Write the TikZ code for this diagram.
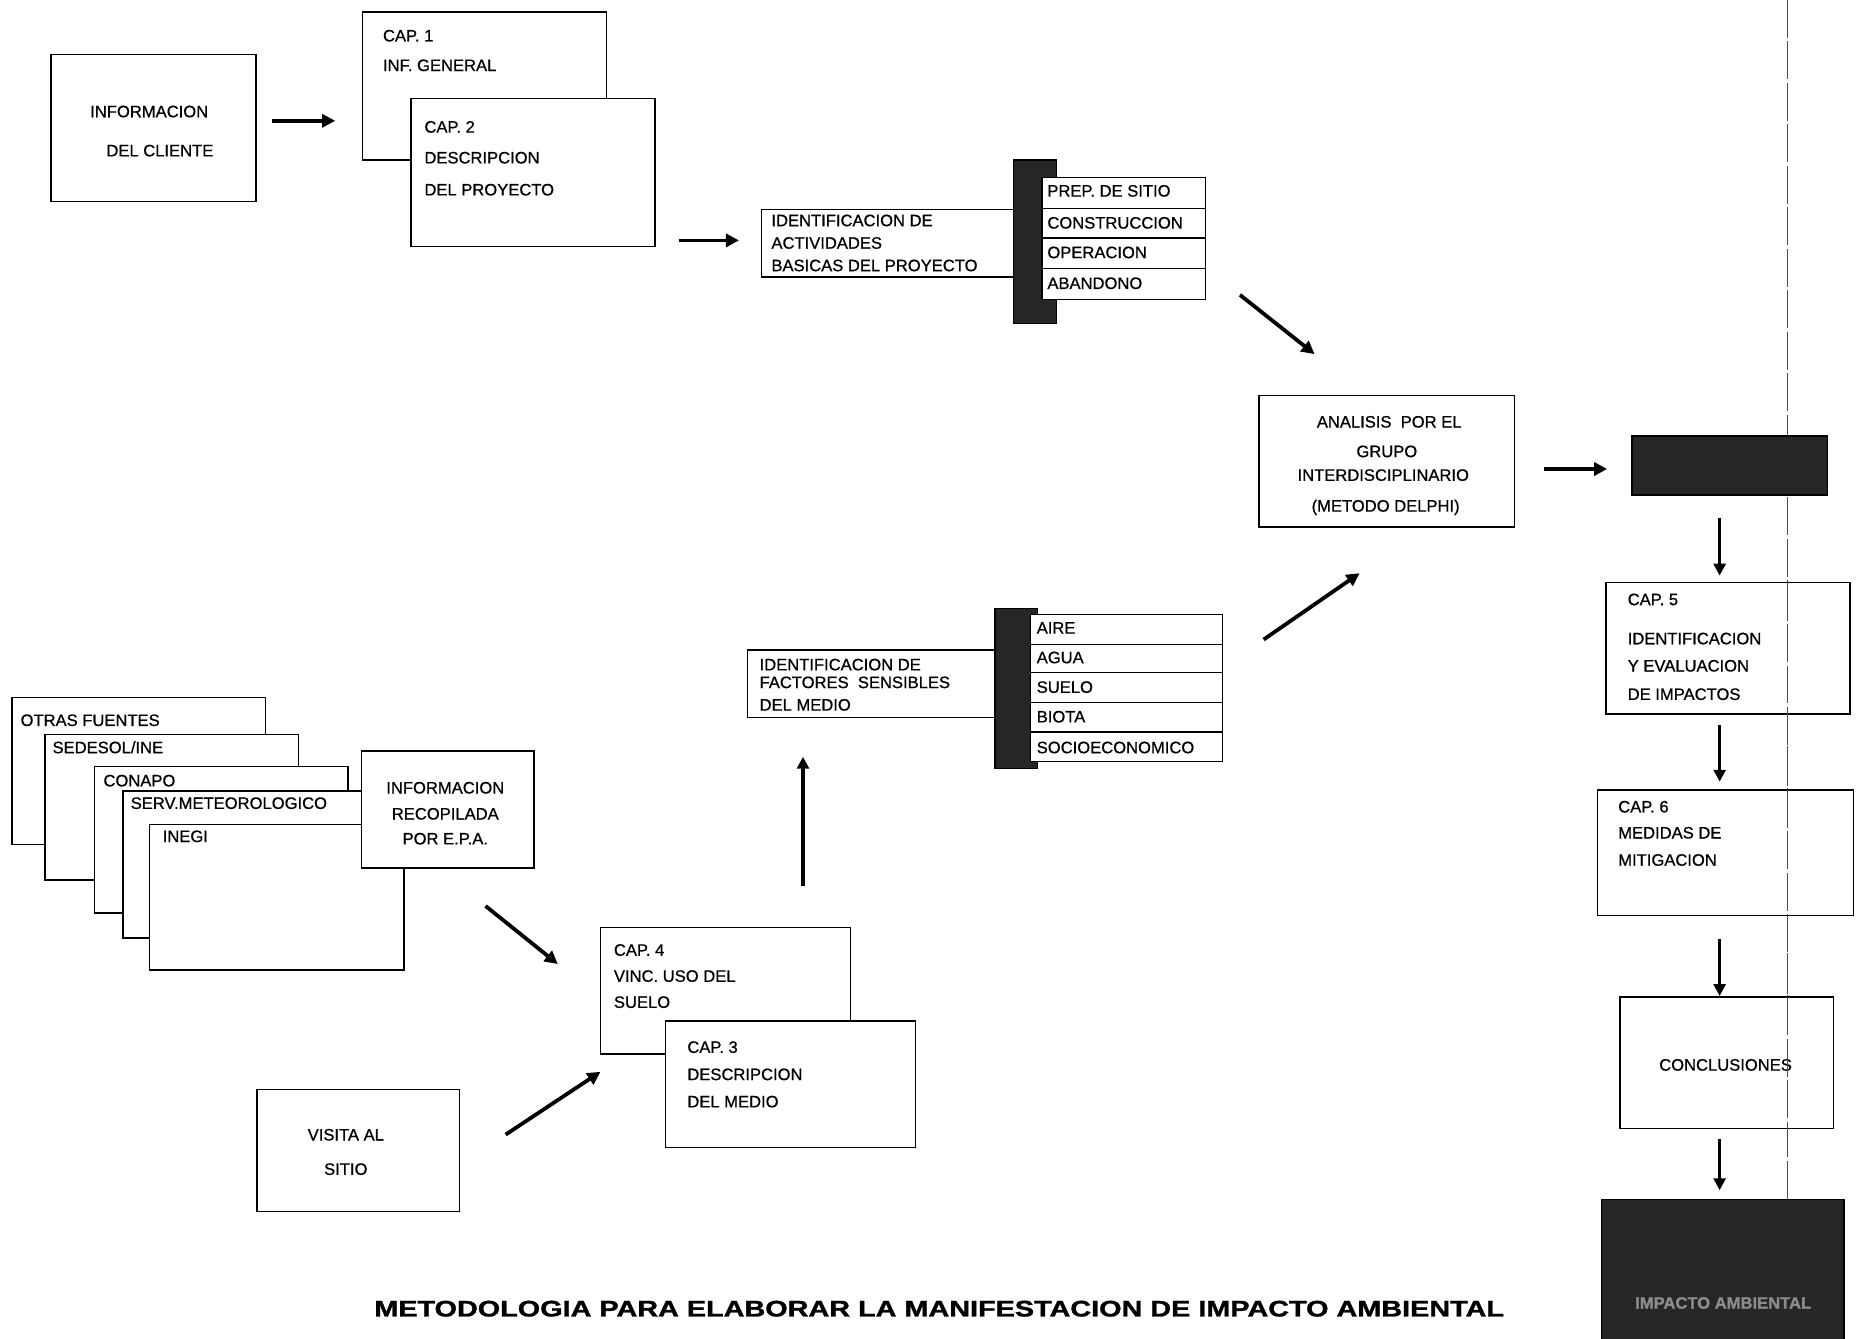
\documentclass[tikz,border=0pt]{standalone}
\usepackage{fontspec}
\setmainfont{Liberation Sans}
\newfontfamily\scanfont[FakeBold=0.7]{Liberation Sans}
\newfontfamily\scanbold[FakeBold=1.2]{Liberation Sans Bold}
\usetikzlibrary{arrows.meta,fit}
\begin{document}
\begin{tikzpicture}[x=0.5pt,y=-0.5pt,
  font=\scanfont\fontsize{7}{8}\selectfont,
  box/.style={draw, line width=0.6pt, fill=white, inner sep=0pt},
  darkbox/.style={draw, line width=0.6pt, fill=black!85, inner sep=0pt},
  lbl/.style={anchor=base west, inner sep=0pt, yshift=-2.5pt},
  clbl/.style={anchor=base, inner sep=0pt, yshift=-2.5pt},
  arr/.style={line width=1.6pt, -{Triangle[length=5.5pt,width=5.5pt]}},
  varr/.style={line width=1.3pt, -{Triangle[length=5pt,width=5pt]}},
  vline/.style={black!70, line width=0.5pt, dash pattern=on 16pt off 1.5pt},
  rowline/.style={line width=0.5pt}]
\useasboundingbox (0,0) rectangle (1568,1130);

% vertical dashed line
\coordinate (vtop) at (1509,0);
\coordinate (vbot) at (1509,1013);
\draw[vline] (vtop) -- (vbot);

% --- top row ---
\node[box, fit={(43,46) (216,170)}] (cliente) {};
\node[clbl] (t1) at (126,94) {INFORMACION};
\node[clbl] (t2) at (135,127) {DEL CLIENTE};

\node[box, fit={(306,10) (512,135)}] (cap1) {};
\node[lbl] (t3) at (323,30) {CAP. 1};
\node[lbl] (t4) at (323,55) {INF. GENERAL};

\node[box, fit={(347,83) (553,208)}] (cap2) {};
\node[lbl] (t5) at (358,107) {CAP. 2};
\node[lbl] (t6) at (358,133) {DESCRIPCION};
\node[lbl] (t7) at (358,160) {DEL PROYECTO};

\coordinate (a1s) at (230,102); \coordinate (a1e) at (283,102);
\draw[arr] (a1s) -- (a1e);
\coordinate (a2s) at (573,203); \coordinate (a2e) at (624,203);
\draw[arr] (a2s) -- (a2e);

% actividades
\node[box, fit={(643,177) (866,234)}] (activ) {};
\node[lbl] (t8) at (651,186) {IDENTIFICACION DE};
\node[lbl] (t9) at (651,205) {ACTIVIDADES};
\node[lbl] (t10) at (651,224) {BASICAS DEL PROYECTO};
\node[darkbox, fit={(856,135) (892,273)}] (bar1) {};
\node[box, fit={(880,150) (1018,253)}] (list1) {};
\draw[rowline] (880,176) -- (1018,176);
\draw[rowline] (880,201) -- (1018,201);
\draw[rowline] (880,227) -- (1018,227);
\node[lbl] (t11) at (884,161) {PREP. DE SITIO};
\node[lbl] (t12) at (884,188) {CONSTRUCCION};
\node[lbl] (t13) at (884,213) {OPERACION};
\node[lbl] (t14) at (884,239) {ABANDONO};

\coordinate (a3s) at (1047,249); \coordinate (a3e) at (1110,299);
\draw[arr] (a3s) -- (a3e);

% analisis
\node[box, fit={(1063,334) (1279,445)}] (analisis) {};
\node[clbl] (t15) at (1173,356) {ANALISIS\ \ POR EL};
\node[clbl] (t16) at (1171,381) {GRUPO};
\node[clbl] (t17) at (1168,401) {INTERDISCIPLINARIO};
\node[clbl] (t18) at (1170,427) {(METODO DELPHI)};

\coordinate (a4s) at (1304,396); \coordinate (a4e) at (1357,396);
\draw[arr] (a4s) -- (a4e);

\node[darkbox, fit={(1378,368) (1543,418)}] (dark1) {};

% right column
\coordinate (a5s) at (1452,437); \coordinate (a5e) at (1452,486);
\draw[varr] (a5s) -- (a5e);
\node[box, fit={(1356,492) (1562,603)}] (cap5) {};
\node[lbl] (t19) at (1374,506) {CAP. 5};
\node[lbl] (t20) at (1374,539) {IDENTIFICACION};
\node[lbl] (t21) at (1374,562) {Y EVALUACION};
\node[lbl] (t22) at (1374,586) {DE IMPACTOS};

\coordinate (a6s) at (1452,612); \coordinate (a6e) at (1452,660);
\draw[varr] (a6s) -- (a6e);
\node[box, fit={(1349,667) (1565,773)}] (cap6) {};
\node[lbl] (t23) at (1366,681) {CAP. 6};
\node[lbl] (t24) at (1366,703) {MEDIDAS DE};
\node[lbl] (t25) at (1366,726) {MITIGACION};

\coordinate (a7s) at (1452,793); \coordinate (a7e) at (1452,841);
\draw[varr] (a7s) -- (a7e);
\node[box, fit={(1368,842) (1548,953)}] (concl) {};
\node[clbl] (t26) at (1457,899) {CONCLUSIONES};

\coordinate (a8s) at (1452,962); \coordinate (a8e) at (1452,1005);
\draw[varr] (a8s) -- (a8e);
\node[darkbox, fit={(1352,1013) (1557,1132)}] (dark2) {};
\node[clbl, text=black!45, font=\scanbold\fontsize{7}{8}\selectfont] (t27) at (1455,1100) {IMPACTO AMBIENTAL};

% dashed line visible over the right column boxes
\coordinate (vmid1) at (1509,492);
\coordinate (vmid2) at (1509,953);
\draw[vline] (vmid1) -- (vmid2);

% --- factores ---
\node[box, fit={(631,549) (858,606)}] (factores) {};
\node[lbl] (t28) at (641,561) {IDENTIFICACION DE};
\node[lbl] (t29) at (641,576) {FACTORES\ \ SENSIBLES};
\node[lbl] (t30) at (641,595) {DEL MEDIO};
\node[darkbox, fit={(840,514) (876,649)}] (bar2) {};
\node[box, fit={(870,519) (1032,643)}] (list2) {};
\draw[rowline] (870,544) -- (1032,544);
\draw[rowline] (870,568) -- (1032,568);
\draw[rowline] (870,593) -- (1032,593);
\draw[rowline] (870,618) -- (1032,618);
\node[lbl] (t31) at (875,530) {AIRE};
\node[lbl] (t32) at (875,555) {AGUA};
\node[lbl] (t33) at (875,580) {SUELO};
\node[lbl] (t34) at (875,605) {BIOTA};
\node[lbl] (t35) at (875,631) {SOCIOECONOMICO};

\coordinate (a9s) at (1067,540); \coordinate (a9e) at (1148,484);
\draw[arr] (a9s) -- (a9e);
\coordinate (a10s) at (678,748); \coordinate (a10e) at (678,639);
\draw[varr] (a10s) -- (a10e);

% --- bottom left stack ---
\node[box, fit={(10,589) (224,713)}] (otras) {};
\node[lbl] (t36) at (17,608) {OTRAS FUENTES};
\node[box, fit={(38,620) (252,743)}] (sedesol) {};
\node[lbl] (t37) at (44,631) {SEDESOL/INE};
\node[box, fit={(80,647) (294,771)}] (conapo) {};
\node[lbl] (t38) at (87,659) {CONAPO};
\node[box, fit={(104,668) (320,792)}] (serv) {};
\node[lbl] (t39) at (110,678) {SERV.METEOROLOGICO};
\node[box, fit={(126,696) (341,819)}] (inegi) {};
\node[lbl] (t40) at (137,706) {INEGI};
\node[box, fit={(305,634) (451,733)}] (recop) {};
\node[clbl] (t41) at (376,665) {INFORMACION};
\node[clbl] (t42) at (376,687) {RECOPILADA};
\node[clbl] (t43) at (376,708) {POR E.P.A.};

\coordinate (a11s) at (410,765); \coordinate (a11e) at (471,814);
\draw[arr] (a11s) -- (a11e);

\node[box, fit={(507,783) (718,890)}] (cap4) {};
\node[lbl] (t44) at (518,802) {CAP. 4};
\node[lbl] (t45) at (518,824) {VINC. USO DEL};
\node[lbl] (t46) at (518,846) {SUELO};
\node[box, fit={(562,862) (773,969)}] (cap3) {};
\node[lbl] (t47) at (580,884) {CAP. 3};
\node[lbl] (t48) at (580,907) {DESCRIPCION};
\node[lbl] (t49) at (580,930) {DEL MEDIO};

\node[box, fit={(217,920) (388,1023)}] (visita) {};
\node[clbl] (t50) at (292,958) {VISITA AL};
\node[clbl] (t51) at (292,987) {SITIO};

\coordinate (a12s) at (427,958); \coordinate (a12e) at (507,905);
\draw[arr] (a12s) -- (a12e);

% title
\node[inner sep=0pt] (title) at (793,1105) {\scalebox{1.28}[1]{\scanbold\fontsize{9.5}{10}\selectfont METODOLOGIA PARA ELABORAR LA MANIFESTACION DE IMPACTO AMBIENTAL}};
\end{tikzpicture}
\end{document}
